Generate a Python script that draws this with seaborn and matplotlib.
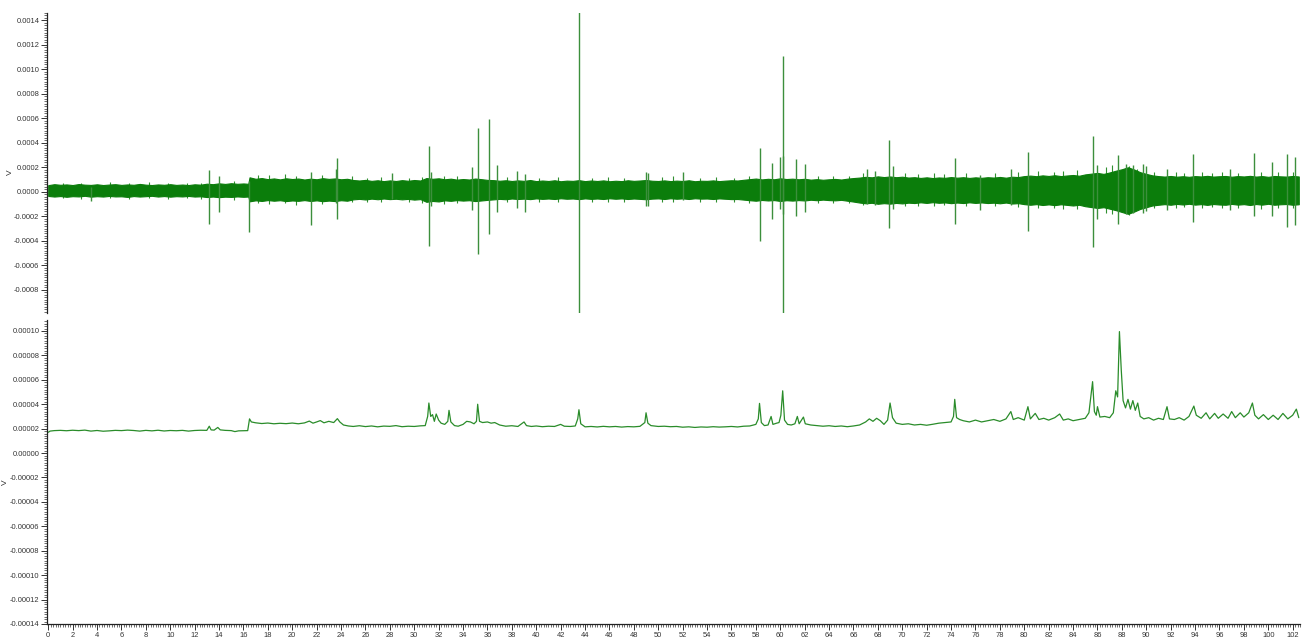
import numpy as np
import pandas as pd
import matplotlib
matplotlib.use("Agg")
import matplotlib.pyplot as plt
from matplotlib.ticker import MultipleLocator, AutoMinorLocator, FuncFormatter
import seaborn as sns

# ---------------------------------------------------------------------------
# Data (values in units of 1e-5 V, time axis in seconds)
# ---------------------------------------------------------------------------
SCALE = 1e-5

# Raw trace: envelope of the noise band, sampled every 0.5 s
band_x = list(np.arange(0, 16.01, 0.5)) + [16.4] + list(np.arange(16.5, 102.51, 0.5))
band_hi = [
    5.4, 6.2, 5.7, 6.0, 5.5, 6.3, 5.8, 5.6, 6.1, 5.5, 5.9, 6.2, 5.6, 6.0, 5.7, 6.4, 5.8,
    5.5, 6.0, 5.7, 6.2, 5.6, 5.9, 5.5, 6.1, 5.8, 6.6, 6.2, 6.9, 6.4, 7.0, 6.5, 6.8,
    6.5,
    11.8, 10.6, 11.2, 10.3, 10.9, 10.1, 11.0, 10.4, 10.8, 10.0,
    10.7, 10.2, 11.1, 10.5, 10.9, 10.2, 10.6, 9.6, 9.2, 9.7,
    8.9, 9.4, 8.7, 9.3, 8.8, 9.5, 9.0, 9.6, 9.2, 11.2,
    10.6, 11.0, 10.2, 10.7, 9.9, 10.4, 10.0, 10.8, 10.3, 9.7,
    9.5, 9.0, 9.4, 8.8, 9.3, 8.9, 9.6, 8.7, 9.2, 8.8,
    9.4, 8.6, 9.1, 8.9, 9.5, 8.7, 9.2, 8.8, 9.3, 8.6,
    9.0, 8.7, 9.4, 8.9, 9.2, 9.6, 9.0, 8.8, 9.3, 8.7,
    9.1, 8.8, 9.4, 8.6, 9.0, 8.9, 9.3, 8.7, 9.1, 9.4,
    9.2, 9.8, 10.3, 10.8, 10.1, 10.6, 10.2, 11.0, 10.4, 10.7,
    10.2, 10.6, 9.9, 10.3, 9.8, 10.2, 10.5, 10.0, 10.7, 11.2,
    11.6, 12.2, 11.8, 12.6, 12.0, 12.5, 11.9, 12.3, 11.6, 11.9,
    11.3, 11.8, 11.2, 11.7, 11.4, 12.0, 11.5, 11.9, 11.3, 11.8,
    11.4, 11.9, 11.6, 12.1, 11.5, 12.3, 12.0, 12.8, 13.2, 12.7,
    13.4, 12.9, 13.5, 12.8, 13.3, 13.7, 13.1, 14.2, 14.8, 15.4,
    14.6, 15.8, 17.2, 18.4, 20.0, 18.2, 16.0, 14.6, 13.4, 12.8,
    12.4, 12.9, 12.3, 12.7, 12.2, 12.8, 12.5, 13.0, 12.4, 12.7,
    12.9, 12.3, 12.8, 12.5, 13.0, 12.4, 12.8, 12.2, 12.9, 12.6,
    12.4, 12.9, 12.5,
]
band_lo = [
    -3.4, -3.9, -3.5, -4.1, -3.6, -3.8, -3.3, -4.0, -3.6, -3.9, -3.4, -3.8, -3.7, -4.2, -3.5, -3.9, -3.6,
    -3.3, -3.9, -3.5, -4.0, -3.6, -3.8, -3.4, -3.9, -3.7, -4.3, -3.9, -4.4, -4.0, -4.2, -3.8, -4.1,
    -3.9,
    -7.8, -7.0, -7.5, -6.8, -7.3, -6.9, -7.6, -7.1, -7.4, -6.8,
    -7.5, -7.0, -7.7, -7.2, -7.6, -6.9, -7.3, -6.2, -5.8, -6.3,
    -5.6, -6.1, -5.5, -6.0, -5.7, -6.2, -5.8, -6.4, -6.0, -8.2,
    -7.5, -7.9, -7.0, -7.4, -6.8, -7.2, -6.9, -7.6, -7.1, -6.6,
    -6.2, -5.8, -6.1, -5.5, -5.9, -5.6, -6.0, -5.4, -5.8, -5.5,
    -5.9, -5.3, -5.7, -5.5, -6.0, -5.4, -5.8, -5.5, -5.9, -5.3,
    -5.7, -5.4, -5.9, -5.5, -5.8, -6.1, -5.6, -5.4, -5.9, -5.3,
    -5.7, -5.4, -5.9, -5.3, -5.6, -5.5, -5.9, -5.4, -5.7, -6.0,
    -5.9, -6.4, -6.9, -7.3, -6.7, -7.1, -6.8, -7.5, -6.9, -7.2,
    -6.8, -7.1, -6.5, -6.9, -6.4, -6.8, -7.0, -6.6, -7.3, -8.0,
    -8.8, -9.4, -9.0, -9.8, -9.3, -9.7, -9.1, -9.5, -8.9, -9.2,
    -8.6, -9.1, -8.5, -9.0, -8.7, -9.3, -8.8, -9.2, -8.6, -9.1,
    -8.7, -9.2, -8.9, -9.4, -8.8, -9.6, -9.3, -10.1, -10.6, -10.1,
    -10.8, -10.3, -10.9, -10.2, -10.7, -11.2, -10.6, -11.8, -12.5, -13.2,
    -12.6, -13.8, -15.0, -16.5, -18.0, -16.2, -14.0, -12.6, -11.2, -10.6,
    -10.1, -10.6, -9.9, -10.4, -9.8, -10.5, -10.1, -10.7, -10.0, -10.4,
    -10.6, -9.9, -10.5, -10.1, -10.8, -10.0, -10.5, -9.8, -10.6, -10.2,
    -10.0, -10.6, -10.2,
]

# Raw trace: isolated spikes (position, positive peak, negative peak)
spike_x = [3.5, 13.2, 14.0, 16.45, 21.5, 23.6, 23.7, 28.2, 31.2, 31.4, 34.7, 35.2,
           36.1, 36.8, 38.4, 39.1, 43.5, 49.0, 49.2, 52.0, 58.3, 59.3, 60.0, 60.2,
           60.25, 61.3, 62.0, 67.1, 67.8, 68.9, 69.2, 74.3, 76.4, 78.9, 80.3, 85.6,
           86.0, 87.7, 88.3, 88.9, 89.7, 90.0, 91.7, 93.8, 96.9, 98.8, 100.3, 101.5, 102.2]
spike_hi = [4, 17.8, 12.9, 9, 16, 18.4, 27.9, 15, 37.4, 16, 20, 52.4,
            59.7, 21.6, 17, 14.8, 150, 16, 15, 16, 35.5, 23.8, 28, 110.6,
            29, 26.5, 23, 18.4, 17, 42.3, 21, 27.3, 14, 18.4, 32.5, 45.5,
            22, 29.8, 22.5, 22, 22.5, 21, 19, 31, 19, 32, 24, 31, 28]
spike_lo = [-7.8, -26.5, -16.5, -32.8, -27.3, -9, -22.4, -6, -44.2, -12, -15, -51,
            -34.7, -16.5, -13, -16.5, -105, -11.6, -12, -7, -40, -22.4, -14, -105,
            -18, -19.7, -16.5, -10, -11, -29.2, -14, -26.5, -15, -11, -32, -45.5,
            -22.4, -26.5, -18, -17, -17, -16, -15, -24.6, -15, -20, -20, -28.5, -27.5]

# Raw trace: small excursions just outside the noise band
burst_x = [1.2, 2.7, 5.1, 6.6, 8.3, 9.8, 11.4, 12.5, 15.2,
           17.2, 18.1, 19.4, 20.3, 22.4, 24.9, 26.1, 27.3, 29.6, 30.6, 32.4, 33.5,
           37.6, 40.2, 41.8, 44.6, 45.9, 47.2, 50.3, 51.2, 53.4, 54.7, 56.2, 57.4,
           63.1, 64.3, 65.6, 66.8, 70.2, 71.3, 72.6, 73.4, 75.2, 77.6, 79.5, 81.1,
           82.4, 83.2, 84.3, 86.7, 87.2, 88.6, 89.2, 90.6, 92.4, 93.1, 94.6, 95.4,
           96.2, 97.5, 99.4, 100.8, 102.0]
burst_hi = [7.5, 7.0, 7.8, 7.2, 7.6, 7.0, 7.5, 7.3, 8.5,
            14.0, 13.5, 14.5, 13.0, 14.0, 12.5, 11.5, 12.0, 11.5, 12.0, 13.0, 12.5,
            12.0, 11.5, 12.0, 11.5, 12.0, 11.5, 12.0, 13.0, 11.5, 12.0, 11.5, 13.0,
            13.0, 12.5, 13.0, 15.0, 15.0, 14.5, 15.0, 14.5, 15.0, 15.0, 16.0, 17.0,
            16.5, 17.0, 17.5, 20.0, 22.0, 21.0, 19.0, 16.0, 16.0, 15.5, 16.0, 15.5,
            16.0, 15.5, 16.0, 16.0, 16.0]
burst_lo = [-5.0, -5.5, -5.0, -5.6, -5.2, -5.8, -5.3, -6.0, -6.5,
            -9.5, -10.0, -9.0, -10.5, -10.0, -8.5, -8.0, -8.5, -8.0, -9.0, -10.0, -9.5,
            -8.0, -8.5, -8.0, -8.5, -8.0, -8.5, -8.0, -8.5, -8.0, -8.5, -8.0, -9.0,
            -9.5, -9.0, -9.5, -11.0, -12.0, -11.5, -12.0, -11.0, -11.5, -12.0, -12.5, -13.5,
            -13.0, -14.0, -14.0, -17.0, -18.0, -19.0, -15.0, -13.0, -13.0, -12.5, -13.5, -12.5,
            -13.0, -13.0, -14.0, -13.0, -13.0]

# Smoothed envelope trace
env_x = [0.0, 0.15, 0.5, 1.0, 1.5, 2.0, 2.5, 3.0, 3.5, 4.0, 4.5, 5.0, 5.5, 6.0, 6.5, 7.0, 7.5,
         8.0, 8.5, 9.0, 9.5, 10.0, 10.5, 11.0, 11.5, 12.0, 12.5, 13.0, 13.2, 13.35, 13.6, 13.9,
         14.1, 14.5, 15.0, 15.3, 15.6, 16.0, 16.35, 16.45, 16.5, 16.65, 17.0, 17.5, 18.0, 18.5,
         19.0, 19.5, 20.0, 20.5, 21.0, 21.4, 21.7, 22.0, 22.3, 22.6, 23.0, 23.4, 23.7, 23.9, 24.2,
         24.6, 25.0, 25.5, 26.0, 26.5, 27.0, 27.5, 28.0, 28.5, 29.0, 29.5, 30.0, 30.5, 30.9, 31.1,
         31.2, 31.35, 31.5, 31.65, 31.8, 32.0, 32.2, 32.5, 32.75, 32.85, 33.0, 33.3, 33.6, 34.0,
         34.3, 34.6, 34.9, 35.1, 35.2, 35.35, 35.6, 36.0, 36.3, 36.6, 37.0, 37.5, 38.0, 38.5, 39.0,
         39.2, 39.6, 40.0, 40.5, 41.0, 41.5, 42.0, 42.3, 42.8, 43.2, 43.4, 43.5, 43.65, 44.0, 44.5,
         45.0, 45.5, 46.0, 46.5, 47.0, 47.5, 48.0, 48.5, 48.9, 49.0, 49.15, 49.4, 50.0, 50.5, 51.0,
         51.5, 52.0, 52.5, 53.0, 53.5, 54.0, 54.5, 55.0, 55.5, 56.0, 56.5, 57.0, 57.5, 58.0, 58.2,
         58.3, 58.45, 58.7, 59.0, 59.25, 59.4, 59.7, 59.9, 60.05, 60.2, 60.35, 60.6, 60.9, 61.2,
         61.4, 61.55, 61.9, 62.05, 62.5, 63.0, 63.5, 64.0, 64.5, 65.0, 65.5, 66.0, 66.5, 67.0, 67.3,
         67.6, 67.9, 68.2, 68.5, 68.8, 69.0, 69.2, 69.5, 70.0, 70.5, 71.0, 71.5, 72.0, 72.5, 73.0,
         73.5, 74.0, 74.2, 74.3, 74.45, 74.7, 75.0, 75.5, 76.0, 76.5, 77.0, 77.5, 78.0, 78.5, 78.9,
         79.1, 79.5, 80.0, 80.3, 80.5, 80.9, 81.2, 81.6, 82.0, 82.5, 82.9, 83.2, 83.6, 84.0, 84.5,
         85.0, 85.3, 85.45, 85.6, 85.75, 85.9, 86.0, 86.2, 86.6, 87.0, 87.3, 87.5, 87.65, 87.8,
         87.95, 88.1, 88.3, 88.5, 88.7, 88.9, 89.1, 89.3, 89.5, 89.8, 90.2, 90.6, 91.0, 91.4, 91.7,
         91.9, 92.3, 92.7, 93.1, 93.5, 93.9, 94.1, 94.5, 94.9, 95.2, 95.6, 95.9, 96.3, 96.7, 97.0,
         97.3, 97.7, 98.0, 98.4, 98.7, 98.9, 99.2, 99.6, 100.0, 100.4, 100.8, 101.2, 101.6, 102.0,
         102.3, 102.5]
env_v = [1.70, 1.80, 1.84, 1.86, 1.83, 1.87, 1.84, 1.88, 1.80, 1.85, 1.79, 1.82, 1.86, 1.84, 1.88, 1.85, 1.80,
         1.86, 1.82, 1.87, 1.81, 1.85, 1.83, 1.86, 1.80, 1.85, 1.87, 1.86, 2.20, 1.90, 1.88, 2.10,
         1.90, 1.86, 1.84, 1.76, 1.82, 1.83, 1.84, 2.45, 2.80, 2.55, 2.48, 2.42, 2.46, 2.40,
         2.44, 2.41, 2.46, 2.40, 2.47, 2.62, 2.45, 2.55, 2.66, 2.48, 2.60, 2.50, 2.82, 2.55, 2.30,
         2.22, 2.18, 2.24, 2.17, 2.22, 2.15, 2.21, 2.19, 2.25, 2.16, 2.20, 2.18, 2.23, 2.25, 3.00,
         4.10, 3.00, 3.15, 2.60, 3.20, 2.70, 2.45, 2.35, 2.60, 3.50, 2.55, 2.25, 2.20, 2.35,
         2.60, 2.55, 2.40, 2.60, 4.00, 2.60, 2.50, 2.55, 2.45, 2.50, 2.30, 2.20, 2.24, 2.18, 2.55,
         2.25, 2.18, 2.22, 2.16, 2.20, 2.18, 2.35, 2.20, 2.18, 2.22, 2.80, 3.55, 2.40, 2.15, 2.18,
         2.14, 2.19, 2.15, 2.18, 2.13, 2.17, 2.15, 2.19, 2.50, 3.30, 2.45, 2.25, 2.18, 2.20, 2.16,
         2.18, 2.12, 2.15, 2.10, 2.14, 2.12, 2.16, 2.13, 2.15, 2.18, 2.14, 2.20, 2.22, 2.35, 2.80,
         4.07, 2.50, 2.25, 2.30, 3.00, 2.35, 2.45, 2.50, 3.10, 5.10, 2.70, 2.35, 2.30, 2.40,
         3.00, 2.40, 2.95, 2.40, 2.30, 2.25, 2.20, 2.24, 2.18, 2.22, 2.16, 2.22, 2.30, 2.55, 2.80,
         2.60, 2.85, 2.65, 2.35, 2.70, 4.10, 2.90, 2.45, 2.35, 2.40, 2.30, 2.35, 2.28, 2.36, 2.45,
         2.50, 2.55, 3.00, 4.40, 2.90, 2.75, 2.65, 2.55, 2.70, 2.55, 2.65, 2.75, 2.60, 2.80, 3.40,
         2.75, 2.90, 2.70, 3.80, 2.80, 3.25, 2.75, 2.85, 2.70, 2.90, 3.20, 2.70, 2.80, 2.65, 2.75,
         2.85, 3.30, 4.60, 5.85, 3.40, 3.10, 3.80, 2.95, 3.00, 2.90, 3.30, 5.10, 4.60, 9.95,
         6.80, 4.30, 3.70, 4.40, 3.60, 4.30, 3.50, 4.10, 3.00, 2.80, 2.90, 2.70, 2.85, 2.75, 3.80,
         2.80, 2.75, 2.90, 2.70, 3.00, 3.85, 3.10, 2.85, 3.30, 2.80, 3.25, 2.85, 3.20, 2.85, 3.40,
         2.90, 3.30, 2.95, 3.30, 4.10, 3.10, 2.80, 3.15, 2.75, 3.10, 2.75, 3.25, 2.80, 3.10,
         3.60, 2.90]

x_ticks_step = 2
raw_ylim = (-99, 146)
env_ylim = (-14.0, 10.9)
y_label = "V"

# ---------------------------------------------------------------------------
# Figure
# ---------------------------------------------------------------------------
sns.set_theme(style="white")
plt.rcParams["font.family"] = ["Liberation Sans", "DejaVu Sans"]

W, H = 1314, 639
fig = plt.figure(figsize=(W / 100, H / 100), dpi=100)
left = 47 / W
width = 1253 / W
ax_raw = fig.add_axes([left, 1 - 313 / H, width, 300 / H])
ax_env = fig.add_axes([left, 1 - 624 / H, width, 304 / H], sharex=ax_raw)

trace_green = "#0b7d0b"
spike_green = "#3c8f3c"
env_green = "#2a8c2a"

# Raw trace: noise band, short bursts and isolated spikes
ax_raw.fill_between(np.asarray(band_x), np.asarray(band_lo) * SCALE,
                    np.asarray(band_hi) * SCALE, color=trace_green,
                    linewidth=0.8, edgecolor=trace_green)
ax_raw.vlines(burst_x, np.asarray(burst_lo) * SCALE, np.asarray(burst_hi) * SCALE,
              color=trace_green, linewidth=0.8, alpha=0.85)
ax_raw.vlines(spike_x, np.asarray(spike_lo) * SCALE, np.asarray(spike_hi) * SCALE,
              color=spike_green, linewidth=1.0)

# Envelope trace
env_df = pd.DataFrame({"t": env_x, "v": np.asarray(env_v) * SCALE})
sns.lineplot(data=env_df, x="t", y="v", ax=ax_env, color=env_green,
             linewidth=0.9, estimator=None, sort=False)

# Axes styling
tick_color = "#333333"
for ax in (ax_raw, ax_env):
    for side in ("top", "right"):
        ax.spines[side].set_visible(False)
    ax.spines["left"].set_color("#222222")
    ax.spines["left"].set_linewidth(0.9)
    ax.tick_params(axis="both", which="major", direction="out", length=4, width=0.7,
                   color=tick_color, labelsize=5.4, labelcolor=tick_color, pad=1.5,
                   left=True, bottom=True)
    ax.tick_params(axis="both", which="minor", direction="out", length=2, width=0.5,
                   color=tick_color, left=True, bottom=True)
    ax.set_facecolor("white")

ax_raw.spines["bottom"].set_visible(False)
ax_raw.tick_params(axis="x", which="both", bottom=False, labelbottom=False)
ax_env.spines["bottom"].set_color("#222222")
ax_env.spines["bottom"].set_linewidth(0.9)

ax_env.set_xlim(-0.1, 102.6)
ax_env.xaxis.set_major_locator(MultipleLocator(x_ticks_step))
ax_env.xaxis.set_minor_locator(AutoMinorLocator(10))
ax_env.xaxis.set_major_formatter(FuncFormatter(lambda v, p: f"{v:.0f}"))

ax_raw.set_ylim(raw_ylim[0] * SCALE, raw_ylim[1] * SCALE)
ax_raw.yaxis.set_major_locator(MultipleLocator(0.0002))
ax_raw.yaxis.set_minor_locator(AutoMinorLocator(10))
ax_raw.yaxis.set_major_formatter(FuncFormatter(lambda v, p: f"{round(v, 8) + 0.0:.4f}"))

ax_env.set_ylim(env_ylim[0] * SCALE, env_ylim[1] * SCALE)
ax_env.yaxis.set_major_locator(MultipleLocator(0.00002))
ax_env.yaxis.set_minor_locator(AutoMinorLocator(10))
ax_env.yaxis.set_major_formatter(FuncFormatter(lambda v, p: f"{round(v, 9) + 0.0:.5f}"))

ax_env.set_xlabel("")
ax_raw.set_ylabel(y_label, fontsize=6, color=tick_color, labelpad=0)
ax_raw.yaxis.set_label_coords(-0.0265, 0.47)
ax_env.set_ylabel(y_label, fontsize=6, color=tick_color, labelpad=0)
ax_env.yaxis.set_label_coords(-0.0305, 0.465)

fig.savefig("out.png", dpi=100, facecolor="white")
